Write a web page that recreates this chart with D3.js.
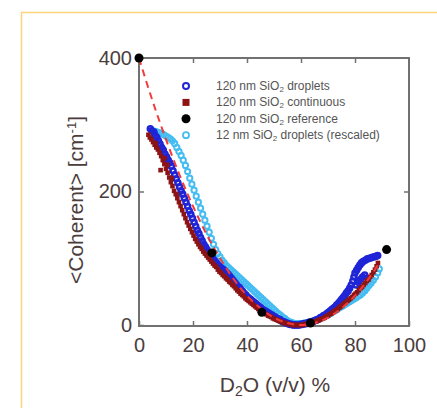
<!DOCTYPE html>
<html>
<head>
<meta charset="utf-8">
<script src="https://cdn.jsdelivr.net/npm/d3@7"></script>
<style>
  body { margin: 0; background: #fff; }
  text { font-family: "Liberation Sans", Arial, sans-serif; }
</style>
</head>
<body>
<svg id="chart"></svg>
<script>
// Values

const xTicks = [0, 20, 40, 60, 80, 100];
const yTicks = [0, 200, 400];

const legendLabels = [
  ["120 nm SiO", "2", " droplets"],
  ["120 nm SiO", "2", " continuous"],
  ["120 nm SiO", "2", " reference"],
  ["12 nm SiO", "2", " droplets (rescaled)"]
];

// 120 nm droplets (blue open circles)
const dropletsX = [4.2,4.8,5.5,6.0,6.6,7.2,7.8,8.4,9.0,9.6,10.2,10.8,11.4,12.0,12.6,13.2,13.8,14.4,15.0,15.6,16.2,16.8,17.4,18.0,18.6,19.2,19.8,20.4,21.0,21.6,22.2,22.8,23.4,24.0,24.6,25.2,25.8,26.4,27.0,27.6,28.2,28.8,29.4,30.0,30.6,31.2,31.8,32.4,33.0,33.6,34.2,34.8,35.4,36.0,36.6,37.2,37.8,38.4,39.0,39.6,40.2,40.8,41.4,42.0,42.6,43.2,43.8,44.4,45.0,45.6,46.2,46.8,47.4,48.0,48.6,49.2,49.8,50.4,51.0,51.6,52.2,52.8,53.4,54.0,54.6,55.2,55.8,56.4,57.0,57.6,58.2,58.8,59.4,60.0,60.6,61.2,61.8,62.4,63.0,63.6,64.2,64.8,65.4,66.0,66.6,67.2,67.8,68.4,69.0,69.6,70.2,70.8,71.4,72.0,72.6,73.2,73.8,74.4,75.0,75.6,76.2,76.8,77.4,78.0,78.6,79.2,79.6,80.0,80.6,81.2,81.8,82.4,83.0,83.8,84.6,85.4,86.2,87.0,87.8,88.4,80.4,81.2,82.0,82.8,83.6];
const dropletsY = [294,291,289,284,281,276,271,266,262,256,252,247,243,238,231,225,219,213,207,201,196,190,184,178,171,166,160,154,148,142,137,131,126,121,117,113,109,105,102,98,95,92,89,87,85,83,81,78,76,73,70,67,64,61,58,56,53,50,47,45,42,40,38,36,34,32,30,28,26,24,22,21,19,18,16,15,13,12,10,9,8,6,5,4,3,2,1,1,0,0,0,0,0,1,1,2,2,3,4,4,5,6,7,8,9,11,12,14,15,17,19,21,23,25,27,30,32,35,38,41,44,48,51,55,60,66,72,78,82,86,90,93,95,97,99,100,101,102,103,104,60,64,68,72,75];

// 120 nm continuous (dark red squares)
const continuousX = [3.5,4.0,4.6,5.2,5.8,6.4,7.0,7.6,8.2,8.8,9.4,10.0,10.6,11.2,11.8,12.4,13.0,13.6,14.2,14.8,15.4,16.0,16.6,17.2,17.8,18.4,19.0,19.6,20.2,20.8,21.4,22.0,22.6,23.2,23.8,24.4,25.0,25.6,26.2,26.8,27.4,28.0,28.6,29.2,29.8,30.4,31.0,31.6,32.2,32.8,33.4,34.0,34.6,35.2,35.8,36.4,37.0,37.6,38.2,38.8,39.4,40.0,40.6,41.2,41.8,42.4,43.0,43.6,44.2,44.8,45.4,46.0,46.6,47.2,47.8,48.4,49.0,49.6,50.2,50.8,51.4,52.0,52.6,53.2,53.8,54.4,55.0,55.6,56.2,56.8,57.4,58.0,58.6,59.2,59.8,60.4,61.0,61.6,62.2,62.8,63.4,64.0,64.6,65.2,65.8,66.4,67.0,67.6,68.2,68.8,69.4,70.0,70.6,71.2,71.8,72.4,73.0,73.6,74.2,74.8,75.4,76.0,76.6,77.2,77.8,78.4,79.0,79.6,80.2,80.8,81.4,82.0,82.6,83.2,83.8,84.4,85.0,85.6,86.2,86.8,87.4,88.0,88.5,8.0,10.5,6.2,12.0,14.0,9.5];
const continuousY = [285,281,278,274,270,266,263,258,253,247,241,234,228,221,214,208,201,196,190,184,178,172,166,160,154,149,144,139,134,129,125,121,117,114,110,107,104,101,98,95,92,89,87,83,80,78,75,73,70,68,65,63,60,58,55,52,50,47,45,43,40,38,36,34,32,30,28,26,24,22,20,19,17,16,14,13,12,10,9,8,7,6,5,4,3,3,2,1,1,0,0,0,0,0,0,0,1,1,2,2,3,3,4,5,6,7,8,9,10,11,13,14,16,17,19,21,22,24,26,28,30,32,34,36,38,40,42,45,47,49,52,55,57,60,63,66,68,72,75,79,83,88,93,232,240,272,220,196,250];

// 120 nm reference (black filled circles)
const referenceX = [0, 27, 45.5, 63.5, 91.7];
const referenceY = [400, 108, 19, 3, 113];

// 12 nm droplets, rescaled (light blue open circles)
const smallX = [6.0,6.8,7.6,8.4,9.2,10.0,10.8,11.6,12.4,13.2,14.0,14.8,15.6,16.4,17.2,18.0,18.8,19.6,20.4,21.2,22.0,22.8,23.6,24.4,25.2,26.0,26.8,27.6,28.4,29.2,30.0,30.8,31.6,32.4,33.2,34.0,34.8,35.6,36.4,37.2,38.0,38.8,39.6,40.4,41.2,42.0,42.8,43.6,44.4,45.2,46.0,46.8,47.6,48.4,49.2,50.0,50.8,51.6,52.4,53.2,54.0,54.8,55.6,56.4,57.2,58.0,58.8,59.6,60.4,61.2,62.0,62.8,63.6,64.4,65.2,66.0,66.8,67.6,68.4,69.2,70.0,70.8,71.6,72.4,73.2,74.0,74.8,75.6,76.4,77.2,78.0,78.8,79.6,80.4,81.2,82.0,82.8,83.6,84.4,85.2,86.0,86.8,87.6,88.4,89.0];
const smallY = [290,289,288,287,285,283,281,279,276,272,266,260,254,247,239,230,220,211,202,193,184,175,166,157,148,139,130,121,113,107,102,97,93,89,86,83,80,77,74,71,68,65,62,59,56,53,50,47,44,41,38,35,32,29,26,23,20,17,15,12,10,7,5,4,3,2,2,2,2,3,3,4,5,6,7,8,9,11,12,14,15,17,19,21,23,25,27,29,31,33,35,37,39,41,43,45,48,51,55,59,63,67,72,78,84];

// Dashed model curve (red)
const modelX = [0, 5, 10, 15, 20, 25, 30, 35, 40, 45, 50, 55, 60, 65, 70, 75, 80, 85, 89];
const modelY = [400, 336, 278, 225, 178, 136, 100, 69, 44, 25, 11, 3, 0, 3, 11, 25, 44, 69, 93];

// Layout
const width = 437, height = 408;
const inkColor = "#4b3d3d";
const frameColor = "#717171";

const svg = d3.select("#chart")
  .attr("width", width)
  .attr("height", height);

// Pale yellow card border that runs off the picture
svg.append("rect")
  .attr("x", 21.5).attr("y", 12.5)
  .attr("width", 500).attr("height", 500)
  .attr("fill", "none")
  .attr("stroke", "#fcd47c")
  .attr("stroke-width", 1.5);

// Scales
const x = d3.scaleLinear().domain([0, 100]).range([139, 409]);
const y = d3.scaleLinear().domain([0, 400]).range([325, 58]);

const frameTop = 58, frameBottom = 326;

// Axes (ticks point inward)
const xAxisG = svg.append("g")
  .attr("transform", `translate(0,${frameBottom})`)
  .call(d3.axisBottom(x).tickValues(xTicks).tickSize(-5).tickSizeOuter(0).tickPadding(12));

const topAxisG = svg.append("g")
  .attr("transform", `translate(0,${frameTop})`)
  .call(d3.axisTop(x).tickValues(xTicks.slice(1, -1)).tickSize(-5).tickSizeOuter(0).tickFormat(""));

const yAxisG = svg.append("g")
  .attr("transform", `translate(${x(0)},0)`)
  .call(d3.axisLeft(y).tickValues(yTicks).tickSize(-5).tickSizeOuter(0).tickPadding(7));

const rightAxisG = svg.append("g")
  .attr("transform", `translate(${x(100)},0)`)
  .call(d3.axisRight(y).tickValues([200]).tickSize(-5).tickSizeOuter(0).tickFormat(""));

[xAxisG, topAxisG, yAxisG, rightAxisG].forEach(g => {
  g.select(".domain").remove();
  g.selectAll(".tick line").attr("stroke", frameColor).attr("stroke-width", 1.5);
  g.selectAll(".tick text")
    .attr("fill", inkColor)
    .style("font-size", "20px")
    .style("font-family", "'Liberation Sans', Arial, sans-serif");
});

// Plot frame
svg.append("rect")
  .attr("x", x(0)).attr("y", frameTop)
  .attr("width", x(100) - x(0))
  .attr("height", frameBottom - frameTop)
  .attr("fill", "none")
  .attr("stroke", frameColor)
  .attr("stroke-width", 2);

const plot = svg.append("g");

// 12 nm droplets
plot.selectAll(".small")
  .data(d3.zip(smallX, smallY))
  .join("circle")
  .attr("class", "small")
  .attr("cx", d => x(d[0]))
  .attr("cy", d => y(d[1]))
  .attr("r", 2.6)
  .attr("fill", "none")
  .attr("stroke", "#45bdf2")
  .attr("stroke-width", 2);

// 120 nm droplets
plot.selectAll(".droplet")
  .data(d3.zip(dropletsX, dropletsY))
  .join("circle")
  .attr("class", "droplet")
  .attr("cx", d => x(d[0]))
  .attr("cy", d => y(d[1]))
  .attr("r", 2.5)
  .attr("fill", "none")
  .attr("stroke", "#1f25d6")
  .attr("stroke-width", 2.6);

// 120 nm continuous
plot.selectAll(".cont")
  .data(d3.zip(continuousX, continuousY))
  .join("rect")
  .attr("class", "cont")
  .attr("x", d => x(d[0]) - 2.3)
  .attr("y", d => y(d[1]) - 2.3)
  .attr("width", 4.6)
  .attr("height", 4.6)
  .attr("fill", "#8c1414");

// Dashed model line
plot.append("path")
  .datum(d3.zip(modelX, modelY))
  .attr("fill", "none")
  .attr("stroke", "#f23a3a")
  .attr("stroke-width", 2)
  .attr("stroke-dasharray", "7,5")
  .attr("d", d3.line().x(d => x(d[0])).y(d => y(d[1])).curve(d3.curveMonotoneX));

// Reference points
plot.selectAll(".ref")
  .data(d3.zip(referenceX, referenceY))
  .join("circle")
  .attr("class", "ref")
  .attr("cx", d => x(d[0]))
  .attr("cy", d => y(d[1]))
  .attr("r", 4.5)
  .attr("fill", "#000");

// Legend
const legend = svg.append("g").attr("transform", "translate(186,86)");
const rowGap = 16.4;

legend.append("circle").attr("cx", 0).attr("cy", 0).attr("r", 3)
  .attr("fill", "none").attr("stroke", "#1f25d6").attr("stroke-width", 2);
legend.append("rect").attr("x", -3.5).attr("y", rowGap - 3.5).attr("width", 7).attr("height", 7)
  .attr("fill", "#8c1414");
legend.append("circle").attr("cx", 0).attr("cy", rowGap * 2).attr("r", 4.5).attr("fill", "#000");
legend.append("circle").attr("cx", 0).attr("cy", rowGap * 3).attr("r", 3)
  .attr("fill", "none").attr("stroke", "#45bdf2").attr("stroke-width", 1.8);

legendLabels.forEach((parts, i) => {
  const t = legend.append("text")
    .attr("x", 30)
    .attr("y", i * rowGap + 4)
    .attr("fill", "#555")
    .style("font-size", "12px");
  t.append("tspan").text(parts[0]);
  t.append("tspan").attr("dy", 2).style("font-size", "8px").text(parts[1]);
  t.append("tspan").attr("dy", -2).text(parts[2]);
});

// Axis titles
const xTitle = svg.append("text")
  .attr("x", 275)
  .attr("y", 392)
  .attr("text-anchor", "middle")
  .attr("fill", inkColor)
  .style("font-size", "21px");
xTitle.append("tspan").text("D");
xTitle.append("tspan").attr("dy", 4).style("font-size", "14px").text("2");
xTitle.append("tspan").attr("dy", -4).text("O (v/v) %");

const yTitle = svg.append("text")
  .attr("transform", "translate(83,200) rotate(-90)")
  .attr("text-anchor", "middle")
  .attr("fill", inkColor)
  .style("font-size", "21px");
yTitle.append("tspan").text("<Coherent> [cm");
yTitle.append("tspan").attr("dy", -7).style("font-size", "13px").text("-1");
yTitle.append("tspan").attr("dy", 7).text("]");
</script>
</body>
</html>
